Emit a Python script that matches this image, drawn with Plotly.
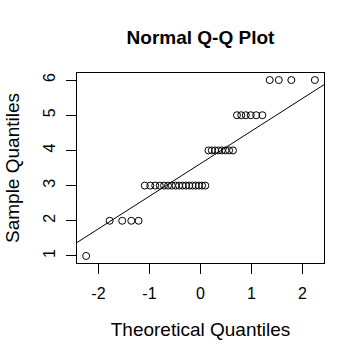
import numpy as np
import plotly.graph_objects as go

# Theoretical normal quantiles (n = 40)
theoretical = [-2.241, -1.780, -1.534, -1.356, -1.213, -1.092, -0.984, -0.887, -0.798, -0.714,
               -0.636, -0.561, -0.489, -0.419, -0.352, -0.286, -0.221, -0.157, -0.094, -0.031,
               0.031, 0.094, 0.157, 0.221, 0.286, 0.352, 0.419, 0.489, 0.561, 0.636,
               0.714, 0.798, 0.887, 0.984, 1.092, 1.213, 1.356, 1.534, 1.780, 2.241]
# Sorted sample values
sample = [1] + [2] * 4 + [3] * 17 + [4] * 8 + [5] * 6 + [6] * 4

x_ticks = [-2, -1, 0, 1, 2]
y_ticks = [1, 2, 3, 4, 5, 6]

# qqline through the first and third quartiles
q_y = np.quantile(sample, [0.25, 0.75])
q_x = np.array([-0.6745, 0.6745])
slope = (q_y[1] - q_y[0]) / (q_x[1] - q_x[0])
intercept = q_y[0] - slope * q_x[0]

xr = [-2.42, 2.42]
yr = [0.8, 6.2]

font = "Liberation Sans, Arial, sans-serif"

fig = go.Figure()
fig.add_trace(go.Scatter(
    x=xr, y=[intercept + slope * v for v in xr], mode="lines",
    line=dict(color="black", width=1), hoverinfo="skip", showlegend=False))
fig.add_trace(go.Scatter(
    x=theoretical, y=sample, mode="markers",
    marker=dict(symbol="circle-open", size=7, color="black", line=dict(width=1)),
    showlegend=False))

fig.update_layout(
    width=358, height=351,
    margin=dict(l=77, r=34, t=73, b=88),
    paper_bgcolor="white", plot_bgcolor="white",
    font=dict(family=font, size=16, color="black"),
    title=dict(text="<b>Normal Q-Q Plot</b>", x=(77 + 324) / 2 / 358, xanchor="center",
               y=1 - 37 / 351, yanchor="middle", font=dict(size=19, family=font)),
    xaxis=dict(range=xr, tickvals=x_ticks, ticktext=[str(v) for v in x_ticks],
               showgrid=False, zeroline=False, showline=True, mirror=True,
               linecolor="black", linewidth=1, ticks="outside", ticklen=10,
               tickcolor="black", tickwidth=1, ticklabelstandoff=6,
               title=dict(text="Theoretical Quantiles", standoff=21)),
    yaxis=dict(range=yr, tickvals=y_ticks, ticktext=[str(v) for v in y_ticks],
               showgrid=False, zeroline=False, showline=True, mirror=True,
               linecolor="black", linewidth=1, ticks="outside", ticklen=10,
               tickcolor="black", tickwidth=1, tickangle=-90, ticklabelstandoff=5,
               title=dict(text="Sample Quantiles", standoff=15)),
)

fig.write_html("out.html")
